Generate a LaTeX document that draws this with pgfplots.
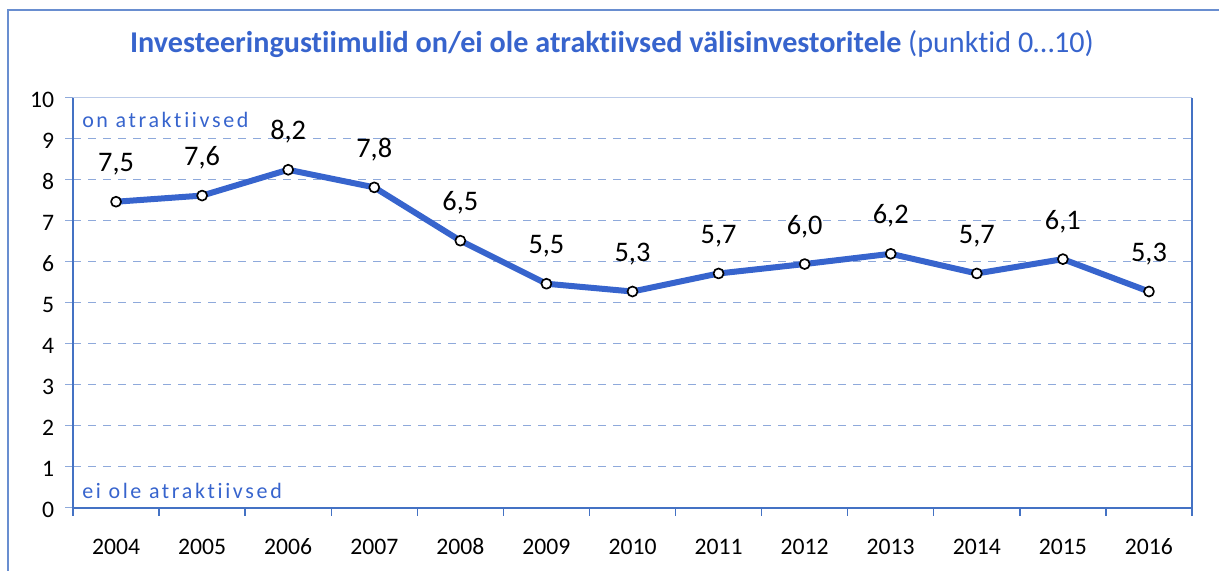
\documentclass[border=0pt]{standalone}
\usepackage{fontspec}
\setmainfont{Carlito}[Ligatures=CommonOff]
\newfontfamily\spaced[LetterSpace=12,Ligatures=CommonOff]{Carlito}
\usepackage{pgfplots}
\pgfplotsset{compat=1.18}
\usepackage{pgfplotstable}
\definecolor{lineblue}{RGB}{55,100,205}
\definecolor{titleblue}{RGB}{55,100,205}
\definecolor{gridblue}{RGB}{142,169,219}
\definecolor{axisblue}{RGB}{68,114,196}
\pgfplotstableread{
x y lab
0 7.47 7,5
1 7.62 7,6
2 8.25 8,2
3 7.82 7,8
4 6.52 6,5
5 5.47 5,5
6 5.28 5,3
7 5.72 5,7
8 5.95 6,0
9 6.20 6,2
10 5.72 5,7
11 6.07 6,1
12 5.28 5,3
}\data
\begin{document}
\begin{tikzpicture}
\path[use as bounding box] (0,0) rectangle (731.4pt,342.6pt);
\draw[axisblue!80, line width=0.8pt] (4.8pt,-20pt) -- (4.8pt,336.6pt) -- (760pt,336.6pt);
\node[font=\fontsize{18.1}{21}\selectfont\bfseries, text=titleblue] at (367.2pt,316.2pt) {Investeeringustiimulid on/ei ole atraktiivsed välisinvestoritele \mdseries(punktid 0…10)};
\begin{axis}[
  at={(43.8pt,37.8pt)}, anchor=south west,
  width=671.4pt, height=246pt, scale only axis,
  xmin=-0.5, xmax=12.5, ymin=0, ymax=10,
  ytick={0,...,10},
  xtick={0,...,12},
  xticklabels={2004,2005,2006,2007,2008,2009,2010,2011,2012,2013,2014,2015,2016},
  minor xtick={-0.5,0.5,...,12.5},
  xtick pos=bottom, ytick pos=left,
  tick align=outside,
  major tick length=4.8pt, minor tick length=4.8pt,
  major x tick style={draw=none},
  minor x tick style={axisblue, line width=0.8pt},
  major y tick style={gridblue, line width=0.6pt},
  axis line style={draw=none},
  ymajorgrids,
  major grid style={gridblue, dash pattern=on 4.8pt off 4.2pt, line width=0.6pt},
  ticklabel style={font=\fontsize{14.2}{16}\selectfont, black},
  /pgf/number format/assume math mode=true,
  xticklabel style={anchor=base, yshift=-23pt},
  yticklabel style={anchor=east, xshift=-3pt, yshift=-1pt},
  clip=false,
]
\draw[gridblue!60, line width=0.6pt] (rel axis cs:0,1) -- (rel axis cs:1,1);
\draw[axisblue, line width=0.7pt] (rel axis cs:1,0) -- (rel axis cs:1,1);
\draw[axisblue, line width=1.1pt] (rel axis cs:0,1) -- (rel axis cs:0,0) -- (rel axis cs:1,0);
\node[anchor=base west, inner sep=0pt, font=\spaced\fontsize{13.2}{15}\selectfont, text=titleblue] at (rel axis cs:0.008,0.929) {on atraktiivsed};
\node[anchor=base west, inner sep=0pt, font=\spaced\fontsize{13.2}{15}\selectfont, text=titleblue] at (rel axis cs:0.008,0.024) {ei ole atraktiivsed};
\addplot[lineblue, line width=3.6pt, line join=round, mark=*, mark size=3pt,
  mark options={fill=white, draw=black, line width=1pt, solid},
  nodes near coords, point meta=explicit symbolic,
  every node near coord/.append style={font=\fontsize{17}{19}\selectfont, black, anchor=base, yshift=18pt}]
  table[x=x, y=y, meta=lab] {\data};
\end{axis}
\end{tikzpicture}
\end{document}
